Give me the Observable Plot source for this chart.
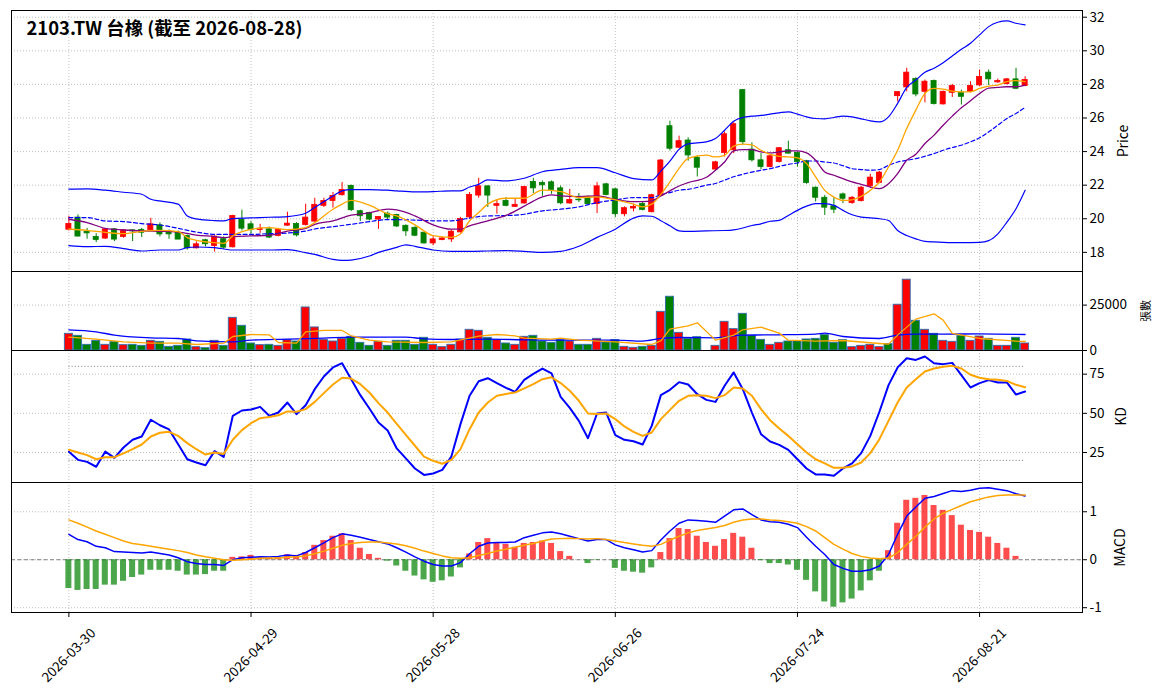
<!DOCTYPE html>
<html><head><meta charset="utf-8">
<script src="https://cdn.jsdelivr.net/npm/d3@7"></script>
<script src="https://cdn.jsdelivr.net/npm/@observablehq/plot@0.6"></script>
<style>
html,body{margin:0;padding:0;background:#fff;}
#chart{position:relative;width:1164px;height:698px;background:#fff;overflow:hidden;}
#chart svg{position:absolute;left:0;overflow:visible;}
</style></head>
<body><div id="chart"></div>
<script>
const title = "2103.TW 台橡 (截至 2026-08-28)";
const tickIdx = [0, 20, 40, 60, 80, 100];
const tickLabels = ["2026-03-30","2026-04-29","2026-05-28","2026-06-26","2026-07-24","2026-08-21"];

const open = [
19.35,20.07,19.23,18.92,18.82,19.37,18.92,19.31,19.33,19.31,
19.61,19.21,19.17,18.98,18.24,18.72,18.38,18.78,18.30,19.93,
19.67,19.33,19.37,18.98,19.59,19.69,19.63,19.83,20.77,21.06,
21.40,21.96,20.45,20.35,19.95,20.30,20.23,19.58,19.46,19.17,
18.53,18.73,18.77,19.19,20.08,21.38,21.93,20.77,21.06,20.71,
20.91,22.19,22.13,22.17,21.81,20.91,21.14,21.26,20.87,22.05,
21.75,20.27,20.61,20.87,20.39,21.36,25.51,24.23,24.66,23.63,
23.10,22.93,23.92,24.08,27.66,24.12,23.48,23.08,23.38,24.08,
23.92,23.42,21.85,21.25,20.74,21.45,20.94,21.05,21.93,22.13,
25.03,27.30,27.82,28.32,27.56,28.20,26.81,27.50,27.50,27.56,
27.94,28.70,28.12,28.02,28.30,27.90];
const high = [
20.15,20.23,19.43,19.11,19.41,19.41,19.33,19.35,19.43,20.03,
19.75,19.33,19.27,19.03,18.62,18.78,18.98,18.92,20.21,20.51,
19.83,19.67,19.51,19.43,20.39,19.77,20.87,21.22,21.22,21.56,
22.16,22.00,20.51,20.39,20.11,20.40,20.27,19.64,19.52,19.17,
18.93,18.89,19.33,20.08,21.56,22.41,21.97,21.10,21.26,21.16,
21.93,22.41,22.25,22.25,21.95,21.75,21.50,21.36,22.15,22.11,
21.81,20.71,20.87,20.97,21.46,23.53,25.81,24.92,24.82,23.73,
23.10,23.42,25.17,25.71,27.70,24.52,23.88,23.78,24.24,24.62,
23.98,23.48,21.89,21.39,21.25,21.53,21.33,21.93,22.65,22.81,
25.03,27.54,28.96,28.40,28.26,28.26,27.60,28.00,27.66,28.16,
28.86,28.86,28.32,28.36,28.96,28.46];
const low = [
19.27,18.92,18.78,18.58,18.78,18.64,18.84,18.64,18.88,19.27,
18.92,18.78,18.76,18.14,18.20,18.32,18.02,18.18,18.26,19.27,
19.07,19.13,18.82,18.92,19.55,18.92,19.57,19.79,20.67,20.63,
21.36,20.43,19.83,19.87,19.37,19.95,19.48,18.95,18.93,18.49,
18.39,18.69,18.59,19.15,19.98,21.22,20.67,20.27,20.71,20.67,
20.87,21.50,21.34,21.46,20.83,20.87,20.97,20.81,20.31,21.36,
20.08,20.12,20.41,20.47,20.35,21.30,24.03,24.17,23.43,22.49,
23.10,22.89,23.68,23.88,24.38,23.38,22.92,23.04,23.32,23.84,
23.08,22.05,21.00,20.20,20.30,20.90,20.86,21.00,21.89,22.09,
25.03,26.96,27.56,27.26,26.90,26.77,26.77,27.22,26.77,27.50,
27.86,27.94,28.06,27.96,27.70,27.86];
const close = [
19.69,18.94,19.13,18.74,19.37,18.76,19.31,19.25,19.17,19.67,
19.07,19.07,18.76,18.24,18.48,18.48,18.94,18.28,20.17,19.41,
19.33,19.41,18.88,19.33,19.71,19.01,20.07,20.83,21.06,21.36,
21.72,20.51,20.15,19.95,20.11,20.07,19.54,19.25,18.99,18.53,
18.77,18.83,19.23,19.98,21.42,21.93,21.38,20.87,20.77,20.83,
21.89,21.81,21.99,21.72,20.92,21.12,21.10,20.87,21.93,21.42,
20.27,20.63,20.71,20.53,21.40,23.47,24.17,24.62,23.77,23.04,
23.10,23.36,25.03,25.63,24.56,23.48,23.08,23.72,24.20,23.88,
23.38,22.13,21.25,20.66,20.54,21.19,21.25,21.85,22.45,22.75,
25.03,27.54,28.70,27.40,28.16,26.83,27.56,27.90,27.26,27.90,
28.44,28.30,28.20,28.30,27.74,28.26];
const volume = [
9190,8090,3125,5330,3125,4600,2940,3125,2570,5330,
4780,2020,2570,6070,1840,1290,5330,2570,18000,13600,
3860,2940,3125,2570,5700,4960,23700,12700,5880,4960,
6430,7540,4230,2570,4780,2570,5330,5330,3125,6990,
3125,1840,3125,6070,11400,10850,6990,5700,3860,3125,
7540,8090,4960,4230,5700,4960,3125,3125,6430,4400,
5700,2020,1470,2020,2570,21300,29600,9740,6430,7350,
0,2570,15800,11760,20200,8090,5880,3125,4230,4960,
4960,6070,6430,8450,4230,5700,1840,2570,3125,1840,
3490,25200,39000,16360,11400,9190,5330,4780,8090,5330,
7720,6430,2570,2570,6990,3860];

// price overlays: [bar index, value]
const ma5 = [[0,19.39],[2,19.31],[4,19.19],[6,19.11],[8,19.25],[10,19.31],[12,19.23],[13,18.88],[14,18.72],[16,18.58],[17,18.54],[18,18.98],[20,19.37],[22,19.47],[24,19.35],[26,19.47],[27,19.77],[29,20.57],[30,20.87],[31,21.10],[33,20.81],[35,20.3],[36,20.17],[38,19.64],[40,18.99],[42,18.89],[43,19.09],[44,19.88],[45,20.37],[46,20.87],[48,21.22],[50,21.22],[52,21.70],[54,21.62],[56,21.26],[58,21.30],[60,21.12],[62,20.87],[63,20.71],[64,20.87],[65,21.45],[66,22.2],[67,23.0],[68,23.6],[70,23.79],[71,23.68],[72,23.78],[73,24.32],[74,24.44],[75,24.40],[76,24.08],[77,23.84],[78,23.72],[79,23.68],[80,23.62],[81,23.28],[82,22.49],[83,21.69],[84,21.29],[85,21.09],[86,21.13],[87,21.33],[88,21.69],[89,22.19],[90,23.08],[91,24.08],[92,25.37],[93,26.47],[94,27.46],[95,27.76],[96,27.72],[97,27.60],[98,27.56],[99,27.56],[100,27.76],[101,27.90],[102,27.96],[103,28.16],[104,28.22],[105,28.16]];
const ma10 = [[0,19.97],[2,19.77],[4,19.43],[6,19.33],[8,19.27],[10,19.25],[12,19.21],[14,19.03],[16,18.94],[17,18.88],[18,18.94],[20,18.98],[22,19.01],[24,19.27],[26,19.43],[27,19.67],[29,19.87],[31,20.21],[33,20.35],[35,20.57],[36,20.53],[38,20.17],[40,19.64],[42,19.38],[43,19.38],[44,19.58],[46,19.88],[48,20.2],[50,20.75],[51,21.05],[52,21.3],[53,21.42],[54,21.36],[56,21.32],[58,21.36],[60,21.16],[62,21.02],[63,21.02],[64,21.06],[65,21.36],[66,21.66],[67,21.95],[68,22.15],[70,22.47],[71,22.89],[72,23.38],[73,24.04],[74,24.12],[75,24.12],[76,23.98],[77,23.92],[78,23.98],[79,24.04],[80,24.04],[81,23.92],[82,23.48],[83,22.79],[84,22.59],[85,22.39],[86,22.19],[87,22.05],[88,21.89],[89,21.79],[90,22.09],[91,22.69],[92,23.48],[93,23.84],[94,24.48],[95,24.98],[96,25.57],[97,26.11],[98,26.61],[99,27.02],[100,27.46],[101,27.78],[102,27.82],[103,27.86],[104,27.86],[105,27.96]];
const ma20 = [[0,20.07],[2,20.07],[4,19.87],[6,19.83],[8,19.71],[10,19.63],[12,19.43],[14,19.21],[16,19.07],[18,19.07],[20,19.07],[22,19.11],[24,19.15],[26,19.27],[27,19.39],[29,19.53],[31,19.67],[33,19.83],[35,19.95],[38,19.92],[40,19.88],[42,19.88],[43,19.94],[44,20.04],[45,20.13],[46,20.17],[48,20.19],[50,20.27],[52,20.47],[54,20.57],[56,20.71],[58,20.96],[60,21.12],[62,21.26],[64,21.26],[65,21.42],[66,21.56],[67,21.70],[68,21.75],[70,22.0],[71,22.1],[72,22.3],[73,22.5],[74,22.65],[75,22.78],[76,22.89],[77,22.98],[78,23.12],[79,23.24],[80,23.32],[81,23.44],[82,23.44],[83,23.38],[84,23.32],[85,23.16],[86,22.98],[87,22.93],[88,22.89],[89,22.93],[90,23.18],[91,23.38],[92,23.48],[93,23.58],[94,23.72],[95,23.88],[96,24.08],[97,24.24],[98,24.38],[99,24.58],[100,24.82],[101,25.17],[102,25.57],[103,25.97],[104,26.27],[105,26.63]];
const bbUpper = [[0,21.76],[2,21.78],[4,21.70],[6,21.58],[8,21.46],[9,21.16],[10,21.06],[12,20.87],[13,20.17],[14,19.99],[16,19.89],[17,19.87],[18,20.01],[20,20.05],[22,20.09],[24,20.13],[26,20.33],[27,20.67],[29,21.36],[30,21.66],[31,21.74],[33,21.74],[35,21.70],[36,21.66],[38,21.60],[40,21.62],[42,21.66],[43,21.66],[44,21.89],[45,22.05],[46,22.31],[48,22.25],[50,22.41],[52,22.80],[54,22.94],[56,23.04],[58,23.04],[60,22.74],[62,22.39],[64,22.31],[65,22.84],[66,23.43],[67,24.13],[68,24.46],[70,24.58],[71,24.78],[72,25.27],[73,25.81],[74,26.03],[75,26.11],[76,26.15],[77,26.23],[78,26.31],[79,26.37],[80,26.23],[81,26.07],[82,25.97],[83,25.95],[84,26.03],[85,26.11],[86,26.07],[87,25.95],[88,25.83],[89,25.77],[90,26.07],[91,26.87],[92,27.82],[93,28.26],[94,28.72],[95,28.96],[96,29.29],[97,29.69],[98,30.09],[99,30.45],[100,30.95],[101,31.44],[102,31.70],[103,31.78],[104,31.64],[105,31.54]];
const bbLower = [[0,18.40],[2,18.34],[4,18.36],[6,18.22],[8,18.08],[10,18.14],[12,18.14],[13,18.28],[14,18.32],[16,18.28],[18,18.14],[20,18.14],[22,18.14],[24,18.16],[26,17.98],[27,17.88],[29,17.58],[30,17.52],[31,17.54],[33,17.78],[34,18.0],[35,18.15],[36,18.30],[37,18.45],[38,18.36],[40,18.14],[42,18.06],[44,18.06],[46,18.08],[48,18.10],[50,18.06],[52,18.0],[54,18.06],[56,18.36],[58,18.89],[60,19.38],[62,20.04],[63,20.17],[64,20.15],[65,19.88],[66,19.58],[67,19.28],[68,19.25],[70,19.28],[72,19.3],[73,19.34],[74,19.45],[75,19.6],[76,19.7],[77,19.85],[78,19.9],[79,20.2],[80,20.5],[81,20.75],[82,20.9],[83,20.9],[84,20.8],[85,20.5],[86,20.24],[87,20.1],[88,20.05],[89,20.0],[90,19.9],[91,19.3],[92,19.0],[93,18.8],[94,18.65],[95,18.62],[96,18.6],[98,18.58],[100,18.6],[101,18.7],[102,19.1],[103,19.8],[104,20.6],[105,21.7]];

const volMa5 = [[0,7350],[3,6250],[6,4780],[9,4040],[12,4040],[14,3310],[17,4040],[18,7720],[20,8820],[22,8640],[23,4410],[25,4040],[26,10300],[28,11030],[30,11030],[31,8090],[33,5700],[35,4780],[39,4410],[42,4780],[45,7900],[47,8820],[49,8090],[50,6800],[53,6250],[54,6800],[56,5700],[60,4780],[64,3310],[65,5330],[66,11760],[68,13600],[69,15260],[71,5700],[73,8460],[74,11400],[76,12870],[78,9560],[79,5700],[82,5150],[85,5510],[89,3860],[90,3490],[91,8460],[93,17280],[95,20220],[96,16730],[97,9375],[100,6620],[104,5150],[105,4960]];
const volMa20 = [[0,11400],[3,10300],[5,8460],[9,6990],[12,6620],[14,5330],[18,4780],[20,5700],[24,6250],[28,6800],[31,7350],[37,7350],[39,6430],[42,6070],[46,6250],[50,5880],[53,5700],[60,5700],[63,5150],[65,6620],[67,7170],[71,6990],[74,8460],[78,8640],[82,9000],[83,9560],[85,7720],[89,6620],[91,8460],[93,9000],[96,9000],[100,9190],[105,8820]];

const kValues = [25.4,20.3,19.0,15.9,25.6,21.6,28.2,33.1,35.2,45.9,
42.4,39.7,30.3,20.7,18.6,16.9,25.9,22.2,48.4,51.8,
52.4,54.1,48.4,50.5,56.9,49.5,55.2,65.4,73.5,79.3,
82.0,71.8,61.6,53.1,44.1,39.0,27.6,21.2,14.8,10.7,
11.6,13.9,22.4,43.1,61.2,70.5,72.4,69.3,66.3,63.7,
71.4,75.2,78.6,75.5,60.5,53.5,45.2,34.1,49.9,50.5,
36.1,33.1,32.2,30.1,42.0,61.6,65.0,69.9,68.4,62.2,
58.6,57.3,67.6,76.1,65.4,50.5,36.7,32.0,29.9,26.7,
20.7,14.8,11.0,11.0,10.1,14.8,18.0,24.6,35.6,51.0,
68.0,79.3,85.2,84.1,86.3,82.0,81.4,82.2,74.4,66.5,
69.3,71.2,69.7,69.7,62.0,63.9];
const dValues = [26.7,25.0,23.3,20.7,22.0,22.0,24.4,27.1,30.1,35.2,
37.6,38.2,35.6,31.0,27.1,23.7,25.0,24.1,33.1,39.3,
43.7,46.9,47.6,48.8,51.2,51.0,52.7,57.3,62.9,68.4,
72.7,72.2,68.6,63.3,56.5,50.5,43.3,36.3,29.3,22.4,
19.7,17.8,20.3,27.1,39.9,50.5,56.9,61.2,62.4,63.3,
65.9,68.6,71.8,73.0,69.3,64.4,58.0,49.9,49.5,49.9,
46.3,41.6,38.2,35.6,37.8,46.3,52.2,58.0,61.2,61.6,
61.2,59.7,61.6,66.5,65.9,61.2,52.7,45.6,40.3,35.6,
30.3,25.0,20.7,18.0,15.2,15.2,16.1,18.6,24.6,33.5,
45.2,56.9,66.5,71.8,76.7,78.6,79.7,80.3,78.6,74.6,
72.7,71.8,71.4,70.7,68.2,66.7];

const dif = [0.53,0.42,0.375,0.28,0.25,0.17,0.16,0.15,0.14,0.16,
0.13,0.10,0.04,-0.04,-0.08,-0.10,-0.10,-0.12,0.0,0.04,
0.05,0.06,0.055,0.07,0.10,0.08,0.15,0.25,0.35,0.46,
0.54,0.51,0.47,0.42,0.375,0.33,0.25,0.16,0.06,-0.03,
-0.10,-0.13,-0.13,-0.06,0.125,0.28,0.35,0.36,0.36,0.37,
0.46,0.51,0.56,0.58,0.54,0.49,0.44,0.39,0.42,0.42,
0.31,0.25,0.21,0.16,0.19,0.41,0.60,0.76,0.83,0.82,
0.80,0.78,0.91,1.04,1.06,0.94,0.83,0.79,0.78,0.74,
0.67,0.47,0.28,0.11,-0.10,-0.18,-0.24,-0.24,-0.21,-0.13,
0.11,0.53,0.91,1.10,1.28,1.32,1.38,1.44,1.42,1.45,
1.49,1.50,1.47,1.44,1.375,1.33];
const signal = [0.83,0.76,0.68,0.60,0.53,0.46,0.39,0.34,0.31,0.28,
0.25,0.22,0.19,0.15,0.10,0.06,0.03,0.0,-0.01,0.0,
0.01,0.03,0.035,0.035,0.05,0.06,0.08,0.125,0.18,0.24,
0.30,0.34,0.36,0.37,0.37,0.35,0.33,0.29,0.24,0.18,
0.13,0.08,0.04,0.03,0.04,0.09,0.13,0.18,0.22,0.26,
0.30,0.34,0.39,0.43,0.44,0.45,0.44,0.43,0.44,0.42,
0.39,0.36,0.33,0.30,0.28,0.32,0.41,0.49,0.56,0.61,
0.64,0.67,0.715,0.78,0.83,0.85,0.85,0.83,0.82,0.79,
0.76,0.69,0.60,0.46,0.32,0.22,0.13,0.07,0.035,0.02,
0.035,0.15,0.32,0.49,0.68,0.85,0.97,1.05,1.13,1.21,
1.26,1.31,1.34,1.35,1.35,1.35];
const hist = [-0.60,-0.64,-0.62,-0.62,-0.53,-0.53,-0.45,-0.37,-0.32,-0.22,
-0.22,-0.22,-0.24,-0.32,-0.32,-0.31,-0.24,-0.24,0.05,0.06,
0.09,0.04,0.03,0.04,0.10,0.09,0.15,0.30,0.40,0.49,
0.54,0.40,0.24,0.11,0.03,-0.03,-0.13,-0.24,-0.34,-0.42,
-0.47,-0.44,-0.36,-0.17,0.12,0.36,0.44,0.35,0.32,0.26,
0.34,0.36,0.39,0.34,0.17,0.07,0.0,-0.08,-0.01,0.0,
-0.18,-0.24,-0.26,-0.28,-0.17,0.15,0.44,0.65,0.63,0.49,
0.36,0.28,0.42,0.55,0.47,0.24,-0.02,-0.08,-0.08,-0.11,
-0.22,-0.43,-0.67,-0.88,-0.99,-0.90,-0.82,-0.65,-0.44,-0.24,
0.19,0.76,1.24,1.28,1.34,1.13,1.03,0.92,0.72,0.61,
0.57,0.47,0.34,0.24,0.07,0.0];

// ---- build tables ----
const candles = open.map((o, i) => ({i, o, h: high[i], l: low[i], c: close[i], col: close[i] > o ? "red" : "green"}));
const vols = volume.map((v, i) => ({i, v, col: candles[i].col}));
const kd = kValues.map((k, i) => ({i, k, d: dValues[i]}));
const macd = dif.map((m, i) => ({i, m, s: signal[i], h: hist[i]}));

const FONT = "'Noto Sans CJK TC','Noto Sans',sans-serif";
const W = 1164, ML = 11, MR = 82;
const xDomain = [-6.3, 111.3];
const gridStyle = {stroke: "#b0b0b0", strokeWidth: 0.8, strokeDasharray: "1,2"};
const P = d => d[0], V = d => d[1];

function panel({top, height, mt, mb, yDomain, yTicks, marks, label, labelDx, labelSize, xAxis}) {
  const svg = Plot.plot({
    width: W, height, marginTop: mt, marginBottom: mb, marginLeft: ML, marginRight: MR,
    style: {fontFamily: FONT, fontSize: "13.5px", background: "transparent", overflow: "visible"},
    x: {type: "linear", domain: xDomain},
    y: {domain: yDomain},
    marks: [
      Plot.ruleY(yTicks, gridStyle),
      Plot.ruleX(tickIdx, gridStyle),
      ...marks,
      Plot.frame({stroke: "black", strokeWidth: 1}),
      Plot.axisY({anchor: "right", ticks: yTicks, tickFormat: d => String(d), tickSize: 4, tickPadding: 3, label: null, fontSize: 13.5}),
      xAxis ? Plot.axisX({ticks: tickIdx, tickFormat: () => "", tickSize: 5, label: null})
            : Plot.axisX({ticks: [], label: null, tickSize: 0}),
      xAxis ? Plot.text(tickIdx, {x: d => d, text: d => tickLabels[tickIdx.indexOf(d)], frameAnchor: "bottom", dy: 43, rotate: -45, textAnchor: "middle", lineAnchor: "middle", fontSize: 13.5})
            : null,
      Plot.text([label], {frameAnchor: "right", dx: labelDx, rotate: -90, textAnchor: "middle", lineAnchor: "middle", fontSize: labelSize})
    ]
  });
  svg.style.top = top + "px";
  document.getElementById("chart").appendChild(svg);
}

// price panel
panel({
  top: 0, height: 271, mt: 10, mb: 0,
  yDomain: [16.86, 32.40], yTicks: [18,20,22,24,26,28,30,32],
  label: "Price", labelDx: 41, labelSize: 14,
  marks: [
    Plot.ruleX(candles, {x: "i", y1: "l", y2: "h", stroke: "col", strokeWidth: 1}),
    Plot.rect(candles, {x1: d => d.i - 0.28, x2: d => d.i + 0.28, y1: "o", y2: "c", fill: "col", stroke: "col", strokeWidth: 0.8}),
    Plot.line(bbUpper, {x: P, y: V, stroke: "blue", strokeWidth: 1.2, curve: "monotone-x"}),
    Plot.line(bbLower, {x: P, y: V, stroke: "blue", strokeWidth: 1.2, curve: "monotone-x"}),
    Plot.line(ma20, {x: P, y: V, stroke: "blue", strokeWidth: 1.2, strokeDasharray: "4,2.5", curve: "monotone-x"}),
    Plot.line(ma10, {x: P, y: V, stroke: "purple", strokeWidth: 1.3, curve: "monotone-x"}),
    Plot.line(ma5, {x: P, y: V, stroke: "orange", strokeWidth: 1.3, curve: "monotone-x"}),
    Plot.text([title], {frameAnchor: "top-left", dx: 15, dy: 11, textAnchor: "start", lineAnchor: "top", fontSize: 18.4, fontWeight: "bold", fill: "black"})
  ]
});

// volume panel
panel({
  top: 270, height: 80, mt: 1, mb: 0,
  yDomain: [0, 43500], yTicks: [0, 25000],
  label: "張數", labelDx: 64, labelSize: 11,
  marks: [
    Plot.rect(vols, {x1: d => d.i - 0.44, x2: d => d.i + 0.44, y1: 0, y2: "v", fill: "col", stroke: "#2f6fae", strokeWidth: 0.9}),
    Plot.line(volMa20, {x: P, y: V, stroke: "blue", strokeWidth: 1.3, curve: "monotone-x"}),
    Plot.line(volMa5, {x: P, y: V, stroke: "orange", strokeWidth: 1.3})
  ]
});

// KD panel
panel({
  top: 349, height: 133, mt: 1, mb: 0,
  yDomain: [5.85, 90.1], yTicks: [25, 50, 75],
  label: "KD", labelDx: 39, labelSize: 14,
  marks: [
    Plot.ruleY([20, 80], {x1: 0, x2: 105, stroke: "#808080", strokeWidth: 0.9, strokeDasharray: "1.2,2"}),
    Plot.line(kd, {x: "i", y: "k", stroke: "blue", strokeWidth: 2}),
    Plot.line(kd, {x: "i", y: "d", stroke: "orange", strokeWidth: 2})
  ]
});

// MACD panel
panel({
  top: 481, height: 217, mt: 1, mb: 86,
  yDomain: [-1.10, 1.61], yTicks: [-1, 0, 1],
  label: "MACD", labelDx: 38, labelSize: 14, xAxis: true,
  marks: [
    Plot.ruleY([0], {stroke: "#808080", strokeWidth: 1, strokeDasharray: "4,2.5"}),
    Plot.rect(macd, {x1: d => d.i - 0.33, x2: d => d.i + 0.33, y1: 0, y2: "h", fill: d => d.h >= 0 ? "red" : "green", fillOpacity: 0.7}),
    Plot.line(macd, {x: "i", y: "m", stroke: "blue", strokeWidth: 1.5}),
    Plot.line(macd, {x: "i", y: "s", stroke: "orange", strokeWidth: 1.5})
  ]
});
</script>
</body></html>
